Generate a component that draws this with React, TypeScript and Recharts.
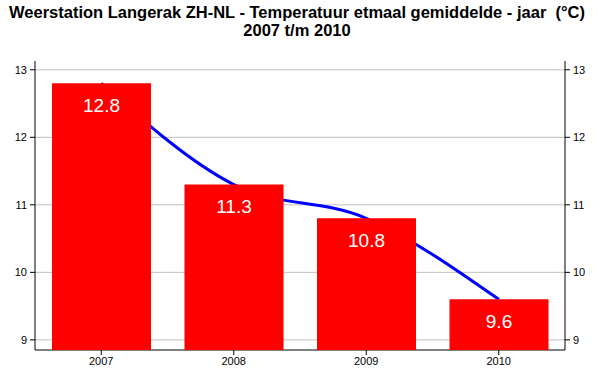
import React from 'react';
import {
  ComposedChart,
  Bar,
  Line,
  XAxis,
  YAxis,
  CartesianGrid,
  LabelList,
} from 'recharts';

// Yearly mean temperature, Langerak ZH-NL
const years = ['2007', '2008', '2009', '2010'];
const temps = [12.8, 11.3, 10.8, 9.6];
const yTicks = [9, 10, 11, 12, 13];

const titleLines = [
  'Weerstation Langerak ZH-NL - Temperatuur etmaal gemiddelde - jaar  (°C)',
  '2007 t/m 2010',
];

const data = years.map((year, i) => ({ year, temp: temps[i] }));

const font = "Arial, 'Liberation Sans', sans-serif";
const tickStyle = { fontSize: 11, fill: '#000', fontFamily: font };
const yDomain: [number, number] = [8.85, 13.13];
const chartMargin = { top: 61, right: 0, bottom: 0, left: 0 };

// the bars sit on top of the blue line, so they get their own chart layer
const App: React.FC = () => (
  <div style={{ position: 'fixed', left: 0, top: 0, width: 600, height: 390, background: '#fff' }}>
    <div
      style={{
        position: 'absolute',
        top: 3,
        left: 0,
        width: 594,
        textAlign: 'center',
        fontFamily: font,
        fontWeight: 'bold',
        fontSize: 16.5,
        lineHeight: '18px',
        color: '#000',
      }}
    >
      {titleLines.map((t) => (
        <div key={t} style={{ whiteSpace: 'pre' }}>{t}</div>
      ))}
    </div>
    <div style={{ position: 'absolute', left: 0, top: 0 }}>
      <ComposedChart width={600} height={390} data={data} margin={chartMargin}>
        <CartesianGrid
          yAxisId="left"
          vertical={false}
          stroke="#c0c0c0"
          horizontalValues={yTicks}
        />
        <XAxis
          dataKey="year"
          height={40}
          tick={tickStyle}
          tickSize={5}
          tickMargin={2}
          axisLine={{ stroke: '#000' }}
          tickLine={{ stroke: '#000' }}
        />
        <XAxis
          xAxisId="top"
          dataKey="year"
          orientation="top"
          height={0}
          tick={false}
          tickLine={false}
          axisLine={{ stroke: '#000' }}
        />
        <YAxis
          yAxisId="left"
          width={35}
          domain={yDomain}
          ticks={yTicks}
          allowDataOverflow
          tick={tickStyle}
          tickSize={5}
          tickMargin={3}
          axisLine={{ stroke: '#000' }}
          tickLine={{ stroke: '#000' }}
        />
        <YAxis
          yAxisId="right"
          orientation="right"
          width={35}
          domain={yDomain}
          ticks={yTicks}
          allowDataOverflow
          tick={tickStyle}
          tickSize={5}
          tickMargin={3}
          axisLine={{ stroke: '#000' }}
          tickLine={{ stroke: '#000' }}
        />
        {/* invisible bar keeps the band layout identical to the bar layer */}
        <Bar yAxisId="left" dataKey="temp" fill="transparent" barSize={99} isAnimationActive={false} />
        <Line
          yAxisId="left"
          type="monotone"
          dataKey="temp"
          stroke="#0000ff"
          strokeWidth={3}
          dot={false}
          isAnimationActive={false}
        />
      </ComposedChart>
    </div>
    <div style={{ position: 'absolute', left: 0, top: 0 }}>
      <ComposedChart width={600} height={390} data={data} margin={chartMargin}>
        <XAxis dataKey="year" height={40} tick={false} tickLine={false} axisLine={false} />
        <YAxis
          yAxisId="left"
          width={35}
          domain={yDomain}
          ticks={yTicks}
          allowDataOverflow
          tick={false}
          tickLine={false}
          axisLine={false}
        />
        <YAxis
          yAxisId="right"
          orientation="right"
          width={35}
          domain={yDomain}
          tick={false}
          tickLine={false}
          axisLine={false}
        />
        <Bar yAxisId="left" dataKey="temp" fill="#ff0000" barSize={99} isAnimationActive={false}>
          <LabelList
            dataKey="temp"
            position="insideTop"
            offset={15}
            fill="#fff"
            fontSize={19}
            fontFamily={font}
            formatter={(v: number) => v.toFixed(1)}
          />
        </Bar>
      </ComposedChart>
    </div>
  </div>
);

export default App;
